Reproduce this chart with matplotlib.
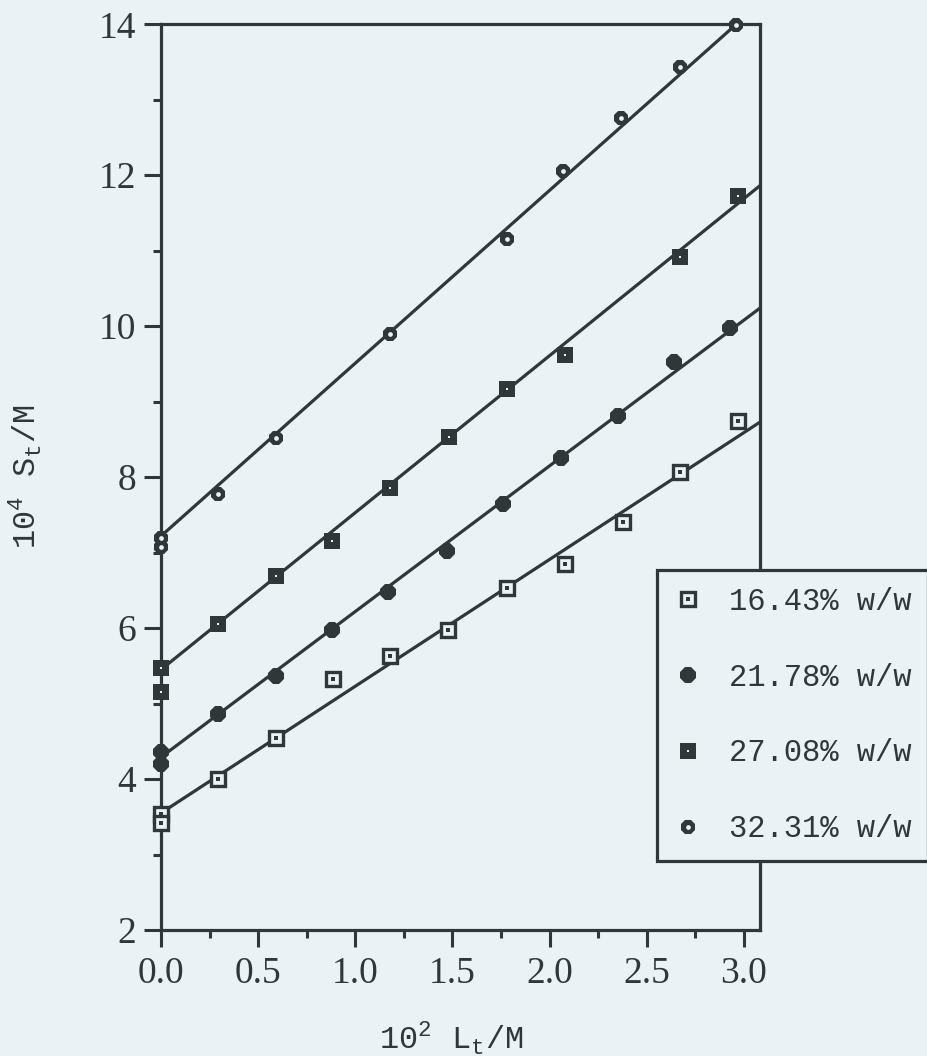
import numpy as np
import matplotlib
matplotlib.use("Agg")
import matplotlib.pyplot as plt
from matplotlib.legend_handler import HandlerTuple
from matplotlib.ticker import MultipleLocator

# data (x = 10^2 L_t / M, y = 10^4 S_t / M)
labels = ["16.43% w/w", "21.78% w/w", "27.08% w/w", "32.31% w/w"]

x_1643 = [0.0, 0.0, 0.295, 0.59, 0.885, 1.18, 1.475, 1.78, 2.08, 2.38, 2.67, 2.97]
y_1643 = [3.54, 3.42, 4.00, 4.54, 5.33, 5.63, 5.98, 6.53, 6.85, 7.41, 8.07, 8.75]

x_2178 = [0.0, 0.0, 0.295, 0.59, 0.88, 1.17, 1.47, 1.76, 2.06, 2.35, 2.64, 2.93]
y_2178 = [4.36, 4.20, 4.86, 5.36, 5.97, 6.48, 7.02, 7.65, 8.25, 8.81, 9.53, 9.98]

x_2708 = [0.0, 0.0, 0.295, 0.59, 0.88, 1.18, 1.48, 1.78, 2.08, 2.67, 2.97]
y_2708 = [5.47, 5.15, 6.06, 6.69, 7.16, 7.86, 8.53, 9.17, 9.62, 10.92, 11.73]

x_3231 = [0.0, 0.0, 0.295, 0.59, 1.18, 1.78, 2.07, 2.37, 2.67, 2.96]
y_3231 = [7.20, 7.07, 7.78, 8.52, 9.90, 11.16, 12.05, 12.76, 13.43, 13.99]

# fitted straight lines as drawn in the figure
intercepts = [3.55, 4.29, 5.45, 7.22]
slopes = [1.68, 1.93, 2.08, 2.29]

bg = "#e9f2f5"
ink = "#2e3838"

plt.rcParams["font.family"] = "Liberation Serif"
plt.rcParams["mathtext.fontset"] = "custom"
plt.rcParams["mathtext.rm"] = "Liberation Mono"

fig = plt.figure(figsize=(9.28, 10.56), dpi=100, facecolor=bg)
ax = fig.add_axes([0.1735, 0.1193, 0.8190 - 0.1735, 0.9770 - 0.1193])
ax.set_facecolor(bg)

xmax = 3.083
xs = np.array([0.0, xmax])
for a, b in zip(intercepts, slopes):
    ax.plot(xs, a + b * xs, color=ink, lw=2.3, zorder=2, clip_on=True)

# 16.43 : open square with dot
h1a, = ax.plot(x_1643, y_1643, ls="none", marker="s", ms=10.5, mfc=bg, mec=ink, mew=2.4, zorder=3, clip_on=False)
h1b, = ax.plot(x_1643, y_1643, ls="none", marker="s", ms=2.8, mfc=ink, mec=ink, mew=0, zorder=4, clip_on=False)
# 21.78 : filled octagon
h2a, = ax.plot(x_2178, y_2178, ls="none", marker="8", ms=12, mfc=ink, mec=ink, mew=0, zorder=3, clip_on=False)
# 27.08 : filled square with white dot
h3a, = ax.plot(x_2708, y_2708, ls="none", marker="s", ms=12, mfc=ink, mec=ink, mew=0, zorder=3, clip_on=False)
h3b, = ax.plot(x_2708, y_2708, ls="none", marker="s", ms=2.0, mfc=bg, mec=bg, mew=0, zorder=4, clip_on=False)
# 32.31 : small ring
h4a, = ax.plot(x_3231, y_3231, ls="none", marker="8", ms=10.5, mfc=ink, mec=ink, mew=0, zorder=3, clip_on=False)
h4b, = ax.plot(x_3231, y_3231, ls="none", marker="o", ms=3.4, mfc=bg, mec=bg, mew=0, zorder=4, clip_on=False)

ax.set_xlim(0, xmax)
ax.set_ylim(2, 14)
ax.xaxis.set_major_locator(MultipleLocator(0.5))
ax.xaxis.set_minor_locator(MultipleLocator(0.25))
ax.yaxis.set_major_locator(MultipleLocator(2))
ax.yaxis.set_minor_locator(MultipleLocator(1))
ax.xaxis.set_major_formatter(plt.FuncFormatter(lambda v, p: f"{v:.1f}"))

for s in ax.spines.values():
    s.set_linewidth(2.3)
    s.set_color(ink)

ax.tick_params(which="both", direction="out", color=ink, width=2.2, labelcolor=ink,
               labelsize=27, top=False, right=False)
ax.tick_params(which="major", length=12)
ax.tick_params(which="minor", length=6)
ax.tick_params(axis="x", pad=7)
ax.tick_params(axis="y", pad=6)

ax.set_xlabel(r"10$^{2}$ L$_{\mathregular{t}}$/M", family="Liberation Mono", fontsize=23, color=ink)
ax.xaxis.set_label_coords(0.485, -0.099)
ax.set_ylabel(r"10$^{4}$ S$_{\mathregular{t}}$/M", family="Liberation Mono", fontsize=23, color=ink)
ax.yaxis.set_label_coords(-0.195, 0.5)

handles = [(h1a, h1b), (h2a,), (h3a, h3b), (h4a, h4b)]
leg = ax.legend(handles, labels, loc="upper left", bbox_to_anchor=(657 / 928, 1 - 570 / 1056),
                bbox_transform=fig.transFigure, borderaxespad=0, frameon=True, fancybox=False,
                prop={"family": "Liberation Mono", "size": 22}, labelspacing=1.5,
                handlelength=0.9, handletextpad=0.9, borderpad=0.55,
                handler_map={tuple: HandlerTuple(ndivide=1)})
leg.get_frame().set_facecolor(bg)
leg.get_frame().set_edgecolor(ink)
leg.get_frame().set_linewidth(2.3)
leg.get_frame().set_alpha(1)
for t in leg.get_texts():
    t.set_color(ink)

fig.savefig("out.png", dpi=100, facecolor=bg)
